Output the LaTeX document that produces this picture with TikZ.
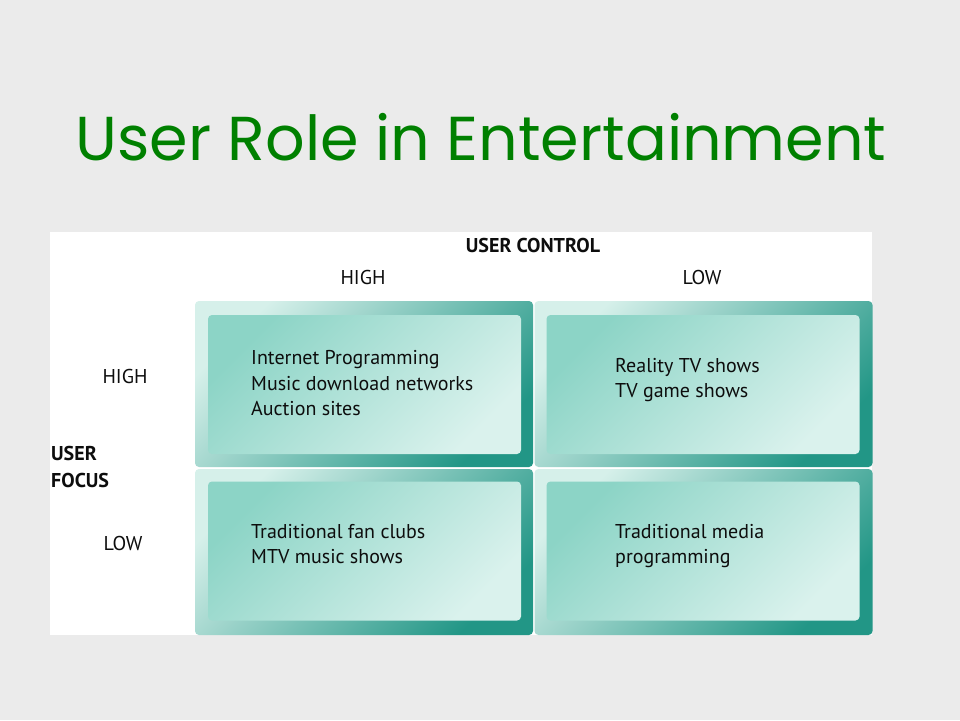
\documentclass[tikz,border=0pt]{standalone}
\usepackage{fontspec}
\setmainfont{PT Sans}
\newfontfamily\titlefont{Poppins}
\definecolor{bgc}{RGB}{235,235,235}
\definecolor{titlegreen}{RGB}{0,128,0}
\definecolor{olight}{RGB}{214,240,234}
\definecolor{odark}{RGB}{34,150,134}
\definecolor{imed}{RGB}{140,212,198}
\definecolor{ilight}{RGB}{218,242,237}
\begin{document}
\begin{tikzpicture}[x=1pt,y=-1pt,
  outerbox/.style={rounded corners=4pt, top color=olight, bottom color=odark, shading angle=45, minimum width=338pt, minimum height=166pt, inner sep=0pt, draw=none},
  innerbox/.style={rounded corners=4pt, top color=imed, bottom color=ilight, shading angle=45, minimum width=313pt, minimum height=139pt, inner sep=0pt, draw=none},
  cell/.style={anchor=west, align=left, font=\fontsize{20}{25.5}\selectfont, text=black!95, inner sep=0pt},
  hdr/.style={font=\fontsize{20}{25.5}\selectfont, text=black!95, inner sep=0pt},
  bhdr/.style={font=\bfseries\fontsize{20}{27}\selectfont, text=black!95, inner sep=0pt}]
\useasboundingbox (0,0) rectangle (960,720);
\fill[bgc] (0,0) rectangle (960,720);
\node[font=\titlefont\fontsize{62}{70}\selectfont, text=titlegreen] (title) at (481,137) {User Role in Entertainment};
\fill[white] (50,232) rectangle (872,635);
% boxes
\node[outerbox] (otl) at (364,384) {};
\node[outerbox] (otr) at (703.5,384) {};
\node[outerbox] (obl) at (364,552) {};
\node[outerbox] (obr) at (703.5,552) {};
\node[innerbox] (itl) at (364.5,384.5) {};
\node[innerbox] (itr) at (703,384.5) {};
\node[innerbox] (ibl) at (364.5,551) {};
\node[innerbox] (ibr) at (703,551) {};
% headers
\node[bhdr] (uc) at (533,245) {USER CONTROL};
\node[hdr] (ch) at (363,277) {HIGH};
\node[hdr] (cl) at (702,277) {LOW};
\node[hdr] (rh) at (125,376) {HIGH};
\node[hdr] (rl) at (123,543) {LOW};
\node[bhdr, anchor=west, align=left] (uf) at (51,466.5) {USER\\FOCUS};
% cell texts
\node[cell] (ttl) at (251,383.5) {Internet Programming\\Music download networks\\Auction sites};
\node[cell] (ttr) at (615,380) {Reality TV shows\\TV game shows};
\node[cell] (tbl) at (251,544) {Traditional fan clubs\\MTV music shows};
\node[cell] (tbr) at (615,546) {Traditional media\\programming};
\end{tikzpicture}
\end{document}
